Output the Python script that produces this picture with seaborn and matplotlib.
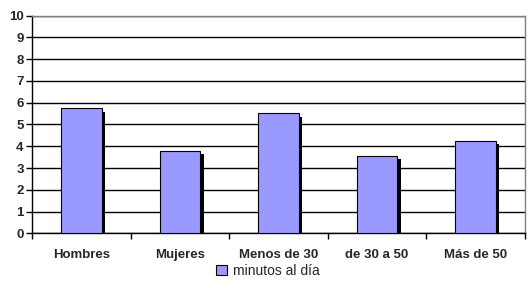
import matplotlib
matplotlib.use("Agg")
import matplotlib.pyplot as plt
import matplotlib.patheffects as pe
from matplotlib.patches import Patch
import seaborn as sns
import pandas as pd

categories = ["Hombres", "Mujeres", "Menos de 30", "de 30 a 50", "Más de 50"]
values = [5.75, 3.80, 5.52, 3.57, 4.26]
series_name = "minutos al día"
yticks = list(range(0, 11))

sns.set_style("white")
plt.rcParams["font.family"] = ["Liberation Sans", "DejaVu Sans"]

df = pd.DataFrame({"cat": categories, "val": values})

fig = plt.figure(figsize=(5.30, 2.88), dpi=100)
W, H = 530, 288
ax = fig.add_axes([32 / W, (H - 233.3) / H, (525 - 32) / W, (233.3 - 15.7) / H])

sns.barplot(data=df, x="cat", y="val", color="#9999FF", width=0.41,
            edgecolor="black", linewidth=0.8, saturation=1, ax=ax, zorder=3)
for p in ax.patches:
    p.set_path_effects([pe.SimplePatchShadow(offset=(2.5, -2.5), shadow_rgbFace="black", alpha=1.0),
                        pe.Normal()])

ax.set_ylim(0, 10)
ax.set_xlim(-0.5, len(categories) - 0.5)
ax.set_yticks(yticks)
ax.set_yticklabels([str(t) for t in yticks], fontweight="bold", fontsize=9.5)
ax.yaxis.grid(True, color="black", linewidth=1.0, zorder=0)
ax.set_axisbelow(True)
ax.set_xticks(range(len(categories)))
ax.set_xticklabels(categories, fontweight="bold", fontsize=9.5)
ax.tick_params(axis="x", length=0, pad=11)
ax.tick_params(axis="y", length=4, width=1, color="black", pad=2, direction="out", left=True)
ax.set_xticks([i - 0.5 for i in range(len(categories) + 1)], minor=True)
ax.tick_params(axis="x", which="minor", length=4, width=1, color="black", direction="out", bottom=True)
ax.set_xlabel("")
ax.set_ylabel("")

for s in ["left", "bottom"]:
    ax.spines[s].set_color("black")
    ax.spines[s].set_linewidth(1.0)
for s in ["top", "right"]:
    ax.spines[s].set_visible(True)
    ax.spines[s].set_color("#808080")
    ax.spines[s].set_linewidth(1.0)

handle = Patch(facecolor="#9999FF", edgecolor="black", linewidth=0.8)
fig.legend([handle], [series_name], loc="center", bbox_to_anchor=(268 / W, 1 - 271 / H),
           frameon=False, fontsize=10, handlelength=0.8, handleheight=0.8, handletextpad=0.4)

fig.savefig("out.png", dpi=100)
